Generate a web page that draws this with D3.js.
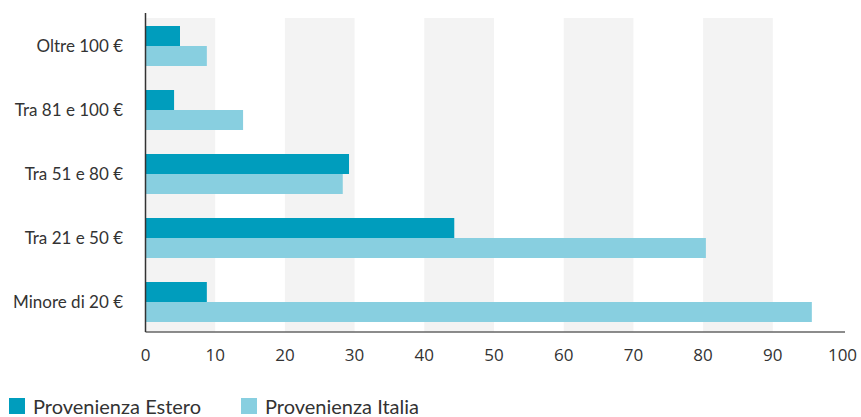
<!DOCTYPE html>
<html>
<head>
<meta charset="utf-8">
<script src="https://cdn.jsdelivr.net/npm/d3@7"></script>
<style>
  body { margin: 0; background: #fff; }
  text { font-family: Lato, "Open Sans", sans-serif; fill: #333; }
</style>
</head>
<body>
<div id="chart"></div>
<script>
var categories = ["Oltre 100 €", "Tra 81 e 100 €", "Tra 51 e 80 €", "Tra 21 e 50 €", "Minore di 20 €"];
var series = ["Provenienza Estero", "Provenienza Italia"];
var estero = [4.95, 4.1, 29.2, 44.3, 8.8];
var italia = [8.8, 14.0, 28.3, 80.4, 95.6];
var xTicks = [0, 10, 20, 30, 40, 50, 60, 70, 80, 90, 100];
var colors = ["#009dbd", "#88cfe0"];

var W = 861, H = 417;
var svg = d3.select("#chart").append("svg")
    .attr("width", W)
    .attr("height", H);

var x = d3.scaleLinear().domain([0, 100]).range([145.5, 842.5]);
var y = d3.scaleBand().domain(categories).range([14, 334])
    .paddingInner(0.375).paddingOuter(0.1875);
var ySub = d3.scaleBand().domain(series).range([0, y.bandwidth()]);

var plotTop = 18, plotBottom = 332;

// alternating grey bands
var bands = xTicks.slice(0, -1).filter(function(d, i) { return i % 2 === 0; });
svg.selectAll("rect.band")
    .data(bands)
  .enter().append("rect")
    .attr("class", "band")
    .attr("x", function(d) { return x(d); })
    .attr("y", plotTop)
    .attr("width", function(d) { return x(d + 10) - x(d); })
    .attr("height", plotBottom - plotTop)
    .attr("fill", "#f3f3f3");

// bars
var rows = categories.map(function(c, i) {
  return { cat: c, values: [estero[i], italia[i]] };
});
var g = svg.selectAll("g.row")
    .data(rows)
  .enter().append("g")
    .attr("class", "row")
    .attr("transform", function(d) { return "translate(0," + y(d.cat) + ")"; });

g.selectAll("rect")
    .data(function(d) { return d.values.map(function(v, j) { return { s: series[j], v: v, j: j }; }); })
  .enter().append("rect")
    .attr("x", x(0))
    .attr("y", function(d) { return ySub(d.s); })
    .attr("width", function(d) { return x(d.v) - x(0); })
    .attr("height", ySub.bandwidth())
    .attr("fill", function(d) { return colors[d.j]; });

// axes lines
svg.append("line")
    .attr("x1", x(0)).attr("x2", 845)
    .attr("y1", plotBottom).attr("y2", plotBottom)
    .attr("stroke", "#666").attr("stroke-width", 1.5);
svg.append("line")
    .attr("x1", x(0)).attr("x2", x(0))
    .attr("y1", 13).attr("y2", plotBottom)
    .attr("stroke", "#333").attr("stroke-width", 1.5);

// x tick labels
svg.selectAll("text.xt")
    .data(xTicks)
  .enter().append("text")
    .attr("class", "xt")
    .attr("x", function(d) { return x(d); })
    .attr("y", 361)
    .attr("text-anchor", "middle")
    .style("font-family", "'Open Sans', sans-serif")
    .style("font-size", "17px")
    .text(function(d) { return d; });

// category labels
svg.selectAll("text.cat")
    .data(categories)
  .enter().append("text")
    .attr("class", "cat")
    .attr("x", 123)
    .attr("y", function(d) { return y(d) + y.bandwidth() / 2; })
    .attr("dy", "0.35em")
    .attr("text-anchor", "end")
    .style("font-size", "17px")
    .text(function(d) { return d; });

// legend
var legX = [9, 241];
var leg = svg.selectAll("g.leg")
    .data(series)
  .enter().append("g")
    .attr("class", "leg")
    .attr("transform", function(d, i) { return "translate(" + legX[i] + ",398)"; });
leg.append("rect")
    .attr("width", 16).attr("height", 16)
    .attr("fill", function(d, i) { return colors[i]; });
leg.append("text")
    .attr("x", 24)
    .attr("y", 16)
    .style("font-size", "20px")
    .text(function(d) { return d; });
</script>
</body>
</html>
